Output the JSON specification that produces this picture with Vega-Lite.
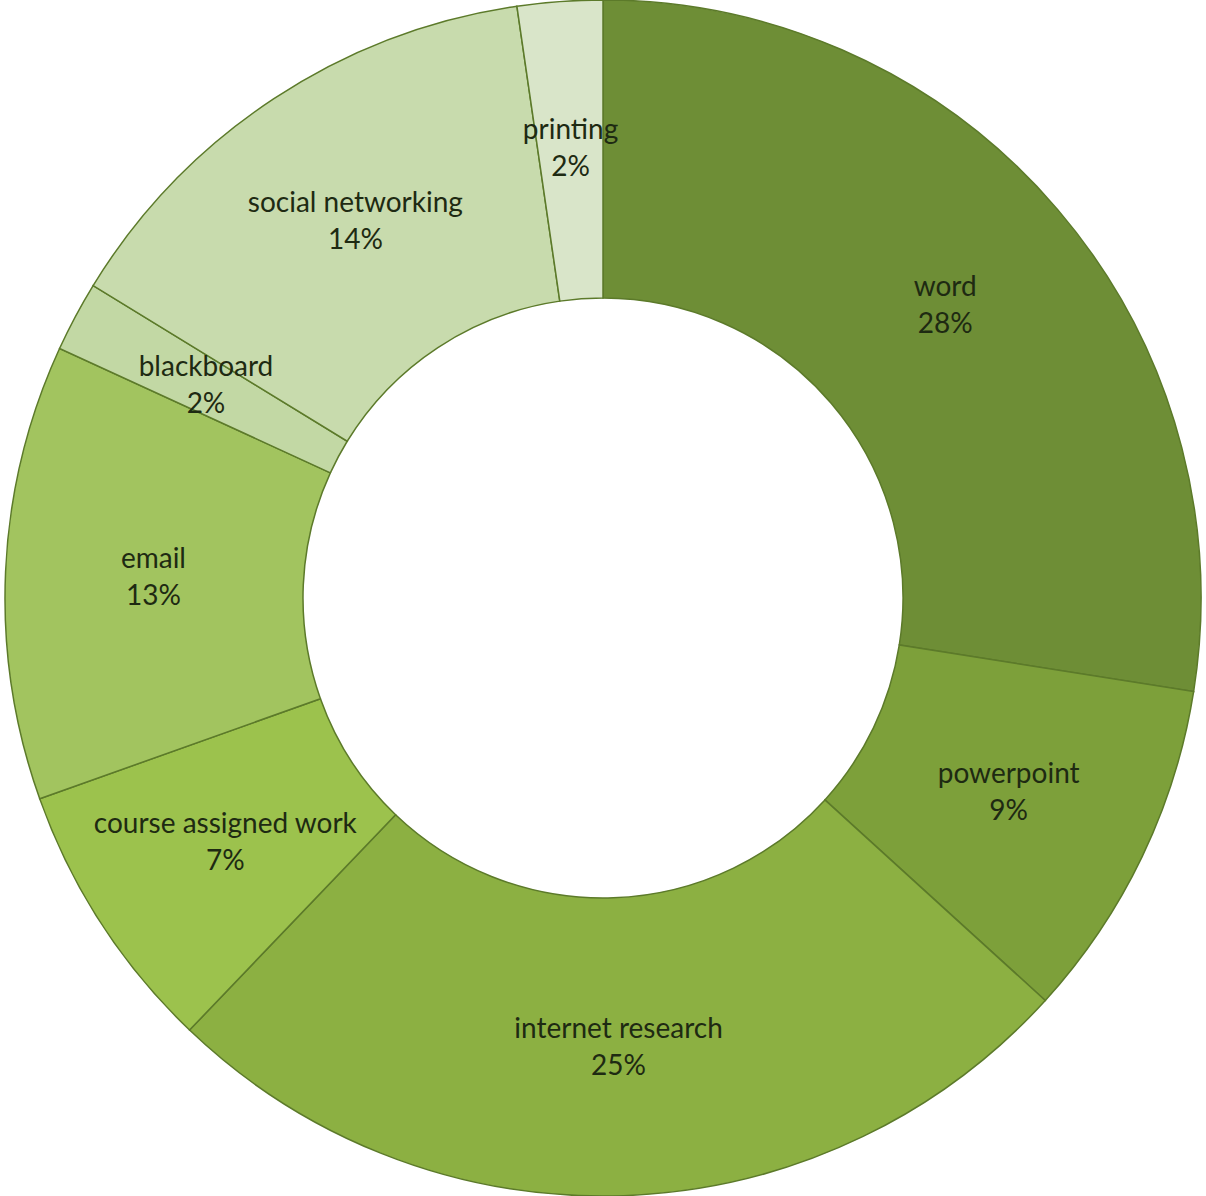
{
  "$schema": "https://vega.github.io/schema/vega-lite/v6.json",
  "width": 1206,
  "height": 1196,
  "autosize": {"type": "fit", "contains": "padding"},
  "padding": 0,
  "background": "white",
  "config": {"view": {"stroke": null}},
  "data": {
    "values": [
      {"name": "word", "value": 27.5, "pct": "28%", "order": 1},
      {"name": "powerpoint", "value": 9.25, "pct": "9%", "order": 2},
      {"name": "internet research", "value": 25.4, "pct": "25%", "order": 3},
      {"name": "course assigned work", "value": 7.4, "pct": "7%", "order": 4},
      {"name": "email", "value": 12.3, "pct": "13%", "order": 5},
      {"name": "blackboard", "value": 1.9, "pct": "2%", "order": 6},
      {"name": "social networking", "value": 13.95, "pct": "14%", "order": 7},
      {"name": "printing", "value": 2.3, "pct": "2%", "order": 8}
    ]
  },
  "encoding": {
    "theta": {"field": "value", "type": "quantitative", "stack": true},
    "order": {"field": "order", "type": "quantitative"}
  },
  "layer": [
    {
      "mark": {"type": "arc", "outerRadius": 598, "innerRadius": 300, "stroke": "#5c7a2a", "strokeWidth": 1.5},
      "encoding": {
        "color": {
          "field": "name",
          "type": "nominal",
          "legend": null,
          "scale": {
            "domain": ["word", "powerpoint", "internet research", "course assigned work", "email", "blackboard", "social networking", "printing"],
            "range": ["#6e8e36", "#7da03a", "#8cb042", "#9cc24d", "#a2c45f", "#c2d8a4", "#c8dbad", "#d9e5c9"]
          }
        }
      }
    },
    {
      "mark": {"type": "text", "radius": 450, "dy": -18, "fontSize": 28, "font": "Lato", "color": "#1e2a12"},
      "encoding": {"text": {"field": "name", "type": "nominal"}}
    },
    {
      "mark": {"type": "text", "radius": 450, "dy": 19, "fontSize": 28, "font": "Lato", "color": "#1e2a12"},
      "encoding": {"text": {"field": "pct", "type": "nominal"}}
    }
  ]
}
